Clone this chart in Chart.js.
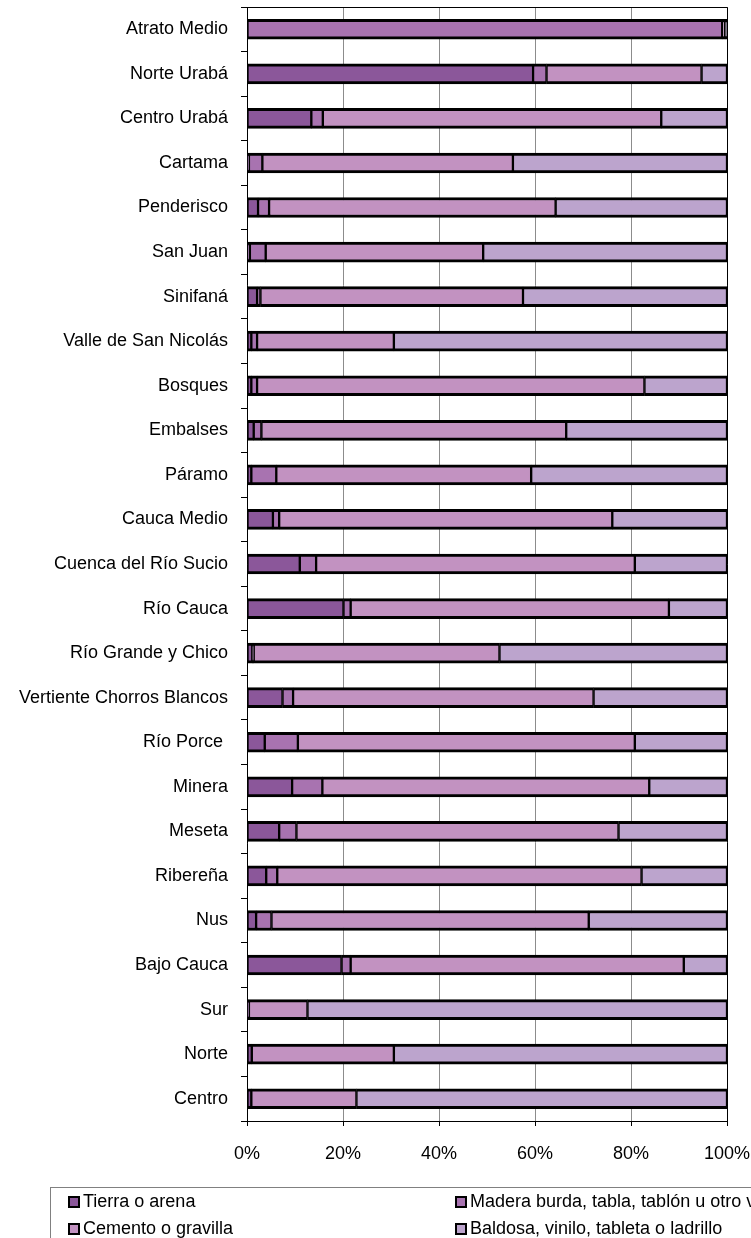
<!DOCTYPE html>
<html>
<head>
<meta charset="utf-8">
<script src="https://cdn.jsdelivr.net/npm/chart.js@4.4.0/dist/chart.umd.min.js"></script>
<style>
  html, body { margin: 0; padding: 0; background: #fff; }
  #chart { display: block; }
</style>
</head>
<body>
<canvas id="chart" width="751" height="1238"></canvas>
<script>
// regions, top to bottom
const categories = [
  "Atrato Medio", "Norte Urabá", "Centro Urabá", "Cartama", "Penderisco",
  "San Juan", "Sinifaná", "Valle de San Nicolás", "Bosques", "Embalses",
  "Páramo", "Cauca Medio", "Cuenca del Río Sucio", "Río Cauca",
  "Río Grande y Chico", "Vertiente Chorros Blancos", "Río Porce ", "Minera",
  "Meseta", "Ribereña", "Nus", "Bajo Cauca", "Sur", "Norte", "Centro"
];

const tierra  = [0, 59.6, 13.4, 0.4, 2.3, 0.6, 2.1, 0.9, 0.9, 1.4, 0.9, 5.4, 11.0, 20.1, 1.1, 7.4, 3.7, 9.4, 6.7, 4.0, 1.9, 19.7, 0.4, 1.0, 0.9];
const madera  = [99.0, 2.8, 2.4, 2.8, 2.3, 3.3, 0.7, 1.2, 1.2, 1.6, 5.2, 1.3, 3.4, 1.5, 0.3, 2.2, 6.9, 6.3, 3.6, 2.3, 3.2, 1.9, 0, 0, 0];
const cemento = [0.6, 32.3, 70.5, 52.2, 59.7, 45.3, 54.7, 28.5, 80.7, 63.5, 53.1, 69.4, 66.4, 66.3, 51.2, 62.6, 70.2, 68.1, 67.1, 75.9, 66.1, 69.4, 12.2, 29.6, 21.9];
const baldosa = [0.4, 5.3, 13.7, 44.6, 35.7, 50.8, 42.5, 69.4, 17.2, 33.5, 40.8, 23.9, 19.2, 12.1, 47.4, 27.8, 19.2, 16.2, 22.6, 17.8, 28.8, 9.0, 87.4, 69.4, 77.2];

const seriesNames = [
  "Tierra o arena",
  "Madera burda, tabla, tablón u otro vegetal",
  "Cemento o gravilla",
  "Baldosa, vinilo, tableta o ladrillo"
];
const xTicks = [0, 20, 40, 60, 80, 100];

const colors = ["#8b579a", "#a873b0", "#c292c1", "#bca4cd"];
const FONT = "'Liberation Sans', Arial, sans-serif";

function ds(i, values) {
  return {
    label: seriesNames[i],
    data: values,
    backgroundColor: colors[i],
    borderColor: "#000",
    borderWidth: { top: 3, bottom: 3, left: 1.5, right: 1.5 },
    borderSkipped: false,
    barThickness: 20
  };
}

// plot frame + legend box at the bottom
const extras = {
  id: "extras",
  afterDatasetsDraw(chart) {
    const { ctx, chartArea: a } = chart;
    ctx.save();
    ctx.strokeStyle = "#000";
    ctx.lineWidth = 1;
    ctx.beginPath();
    ctx.moveTo(a.left, a.top + 0.5);
    ctx.lineTo(a.right + 0.5, a.top + 0.5);
    ctx.lineTo(a.right + 0.5, a.bottom);
    ctx.stroke();
    ctx.restore();
  },
  afterDraw(chart) {
    const ctx = chart.ctx;
    ctx.save();
    ctx.strokeStyle = "#808080";
    ctx.lineWidth = 1;
    ctx.strokeRect(50.5, 1187.5, 760, 100);
    ctx.font = "18px " + FONT;
    ctx.textBaseline = "middle";
    const spots = [[68, 1202], [455, 1202], [68, 1229], [455, 1229]];
    chart.data.datasets.forEach((d, i) => {
      const [x, y] = spots[i];
      ctx.fillStyle = "#000";
      ctx.fillRect(x, y - 6, 12, 12);
      ctx.fillStyle = d.backgroundColor;
      ctx.fillRect(x + 2, y - 4, 8, 8);
      ctx.fillStyle = "#000";
      ctx.fillText(d.label, x + 15, y);
    });
    ctx.restore();
  }
};

new Chart(document.getElementById("chart"), {
  type: "bar",
  data: {
    labels: categories,
    datasets: [ds(0, tierra), ds(1, madera), ds(2, cemento), ds(3, baldosa)]
  },
  plugins: [extras],
  options: {
    responsive: false,
    animation: false,
    indexAxis: "y",
    layout: { padding: { top: 7, right: 24, left: 0, bottom: 0 } },
    plugins: {
      legend: { display: false },
      tooltip: { enabled: false }
    },
    scales: {
      x: {
        stacked: true,
        min: 0,
        max: 100,
        afterBuildTicks(scale) {
          scale.ticks = xTicks.map(v => ({ value: v }));
        },
        afterFit(scale) {
          scale.height = 117;
          scale.paddingLeft = 0;
          scale.paddingRight = 0;
        },
        grid: {
          color: "#8c8c8c",
          tickColor: "#000",
          tickLength: 5,
          lineWidth: 1
        },
        border: { display: true, color: "#000", width: 1 },
        ticks: {
          padding: 17,
          color: "#000",
          font: { family: FONT, size: 18 },
          callback: v => v + "%"
        }
      },
      y: {
        stacked: true,
        afterFit(scale) {
          scale.width = 247;
          scale.paddingTop = 0;
          scale.paddingBottom = 0;
        },
        grid: {
          offset: true,
          drawOnChartArea: false,
          drawTicks: true,
          tickLength: 6,
          color: "#000"
        },
        border: { display: true, color: "#000", width: 1 },
        ticks: {
          padding: 13,
          color: "#000",
          font: { family: FONT, size: 18 }
        }
      }
    }
  }
});
</script>
</body>
</html>
